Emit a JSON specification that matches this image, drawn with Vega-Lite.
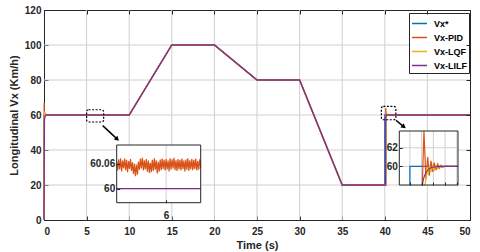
{
  "$schema": "https://vega.github.io/schema/vega-lite/v6.json",
  "width": 426,
  "height": 210,
  "autosize": {"type": "none"},
  "padding": {"left": 44, "top": 10, "right": 10, "bottom": 32},
  "background": "white",
  "config": {
    "view": {"stroke": "#262626", "strokeWidth": 1},
    "font": "Liberation Sans",
    "axis": {
      "labelFont": "Liberation Sans", "labelFontWeight": "bold", "labelFontSize": 10, "labelColor": "#262626",
      "titleFont": "Liberation Sans", "titleFontWeight": "bold", "titleFontSize": 11, "titleColor": "#262626",
      "domainColor": "#262626", "tickColor": "#262626", "tickSize": -4, "grid": false, "labelOverlap": false
    }
  },
  "datasets": {
    "d": [
      {"s": "Vx*", "t": 0, "v": 0},
      {"s": "Vx*", "t": 0.001, "v": 60},
      {"s": "Vx*", "t": 10, "v": 60},
      {"s": "Vx*", "t": 15, "v": 100},
      {"s": "Vx*", "t": 20, "v": 100},
      {"s": "Vx*", "t": 25, "v": 80},
      {"s": "Vx*", "t": 30, "v": 80},
      {"s": "Vx*", "t": 35, "v": 20},
      {"s": "Vx*", "t": 40, "v": 20},
      {"s": "Vx*", "t": 40.0005, "v": 60},
      {"s": "Vx*", "t": 50, "v": 60},
      {"s": "Vx-PID", "t": 0, "v": 0},
      {"s": "Vx-PID", "t": 0.02, "v": 67},
      {"s": "Vx-PID", "t": 0.05, "v": 57.5},
      {"s": "Vx-PID", "t": 0.09, "v": 61.5},
      {"s": "Vx-PID", "t": 0.14, "v": 59.3},
      {"s": "Vx-PID", "t": 0.2, "v": 60.4},
      {"s": "Vx-PID", "t": 0.3, "v": 60.06},
      {"s": "Vx-PID", "t": 5.00, "v": 60.066},
      {"s": "Vx-PID", "t": 5.02, "v": 60.044},
      {"s": "Vx-PID", "t": 5.04, "v": 60.071},
      {"s": "Vx-PID", "t": 5.06, "v": 60.047},
      {"s": "Vx-PID", "t": 5.08, "v": 60.074},
      {"s": "Vx-PID", "t": 5.10, "v": 60.042},
      {"s": "Vx-PID", "t": 5.12, "v": 60.068},
      {"s": "Vx-PID", "t": 5.14, "v": 60.050},
      {"s": "Vx-PID", "t": 5.16, "v": 60.073},
      {"s": "Vx-PID", "t": 5.18, "v": 60.045},
      {"s": "Vx-PID", "t": 5.20, "v": 60.070},
      {"s": "Vx-PID", "t": 5.22, "v": 60.040},
      {"s": "Vx-PID", "t": 5.24, "v": 60.067},
      {"s": "Vx-PID", "t": 5.26, "v": 60.048},
      {"s": "Vx-PID", "t": 5.28, "v": 60.072},
      {"s": "Vx-PID", "t": 5.30, "v": 60.043},
      {"s": "Vx-PID", "t": 5.32, "v": 60.064},
      {"s": "Vx-PID", "t": 5.34, "v": 60.036},
      {"s": "Vx-PID", "t": 5.36, "v": 60.060},
      {"s": "Vx-PID", "t": 5.38, "v": 60.030},
      {"s": "Vx-PID", "t": 5.40, "v": 60.058},
      {"s": "Vx-PID", "t": 5.42, "v": 60.034},
      {"s": "Vx-PID", "t": 5.44, "v": 60.066},
      {"s": "Vx-PID", "t": 5.46, "v": 60.046},
      {"s": "Vx-PID", "t": 5.48, "v": 60.073},
      {"s": "Vx-PID", "t": 5.50, "v": 60.049},
      {"s": "Vx-PID", "t": 5.52, "v": 60.075},
      {"s": "Vx-PID", "t": 5.54, "v": 60.044},
      {"s": "Vx-PID", "t": 5.56, "v": 60.069},
      {"s": "Vx-PID", "t": 5.58, "v": 60.047},
      {"s": "Vx-PID", "t": 5.60, "v": 60.072},
      {"s": "Vx-PID", "t": 5.62, "v": 60.041},
      {"s": "Vx-PID", "t": 5.64, "v": 60.068},
      {"s": "Vx-PID", "t": 5.66, "v": 60.038},
      {"s": "Vx-PID", "t": 5.68, "v": 60.063},
      {"s": "Vx-PID", "t": 5.70, "v": 60.040},
      {"s": "Vx-PID", "t": 5.72, "v": 60.070},
      {"s": "Vx-PID", "t": 5.74, "v": 60.043},
      {"s": "Vx-PID", "t": 5.76, "v": 60.074},
      {"s": "Vx-PID", "t": 5.78, "v": 60.046},
      {"s": "Vx-PID", "t": 5.80, "v": 60.069},
      {"s": "Vx-PID", "t": 5.82, "v": 60.037},
      {"s": "Vx-PID", "t": 5.84, "v": 60.065},
      {"s": "Vx-PID", "t": 5.86, "v": 60.041},
      {"s": "Vx-PID", "t": 5.88, "v": 60.071},
      {"s": "Vx-PID", "t": 5.90, "v": 60.045},
      {"s": "Vx-PID", "t": 5.92, "v": 60.073},
      {"s": "Vx-PID", "t": 5.94, "v": 60.048},
      {"s": "Vx-PID", "t": 5.96, "v": 60.070},
      {"s": "Vx-PID", "t": 5.98, "v": 60.044},
      {"s": "Vx-PID", "t": 6.00, "v": 60.072},
      {"s": "Vx-PID", "t": 6.02, "v": 60.047},
      {"s": "Vx-PID", "t": 6.04, "v": 60.068},
      {"s": "Vx-PID", "t": 6.06, "v": 60.042},
      {"s": "Vx-PID", "t": 6.08, "v": 60.074},
      {"s": "Vx-PID", "t": 6.10, "v": 60.046},
      {"s": "Vx-PID", "t": 6.12, "v": 60.071},
      {"s": "Vx-PID", "t": 6.14, "v": 60.049},
      {"s": "Vx-PID", "t": 6.16, "v": 60.075},
      {"s": "Vx-PID", "t": 6.18, "v": 60.045},
      {"s": "Vx-PID", "t": 6.20, "v": 60.069},
      {"s": "Vx-PID", "t": 6.22, "v": 60.043},
      {"s": "Vx-PID", "t": 6.24, "v": 60.072},
      {"s": "Vx-PID", "t": 6.26, "v": 60.047},
      {"s": "Vx-PID", "t": 6.28, "v": 60.070},
      {"s": "Vx-PID", "t": 6.30, "v": 60.044},
      {"s": "Vx-PID", "t": 6.32, "v": 60.073},
      {"s": "Vx-PID", "t": 6.34, "v": 60.048},
      {"s": "Vx-PID", "t": 6.36, "v": 60.068},
      {"s": "Vx-PID", "t": 6.38, "v": 60.042},
      {"s": "Vx-PID", "t": 6.40, "v": 60.071},
      {"s": "Vx-PID", "t": 6.42, "v": 60.046},
      {"s": "Vx-PID", "t": 6.44, "v": 60.074},
      {"s": "Vx-PID", "t": 6.46, "v": 60.043},
      {"s": "Vx-PID", "t": 6.48, "v": 60.069},
      {"s": "Vx-PID", "t": 6.50, "v": 60.047},
      {"s": "Vx-PID", "t": 6.52, "v": 60.072},
      {"s": "Vx-PID", "t": 6.54, "v": 60.045},
      {"s": "Vx-PID", "t": 6.56, "v": 60.070},
      {"s": "Vx-PID", "t": 6.58, "v": 60.048},
      {"s": "Vx-PID", "t": 6.60, "v": 60.073},
      {"s": "Vx-PID", "t": 6.62, "v": 60.044},
      {"s": "Vx-PID", "t": 6.64, "v": 60.067},
      {"s": "Vx-PID", "t": 6.66, "v": 60.046},
      {"s": "Vx-PID", "t": 6.68, "v": 60.071},
      {"s": "Vx-PID", "t": 6.70, "v": 60.052},
      {"s": "Vx-PID", "t": 10, "v": 60.06},
      {"s": "Vx-PID", "t": 15, "v": 100},
      {"s": "Vx-PID", "t": 20, "v": 100},
      {"s": "Vx-PID", "t": 25, "v": 80},
      {"s": "Vx-PID", "t": 30, "v": 80},
      {"s": "Vx-PID", "t": 35, "v": 20},
      {"s": "Vx-PID", "t": 40.106, "v": 20},
      {"s": "Vx-PID", "t": 40.12, "v": 64},
      {"s": "Vx-PID", "t": 40.137, "v": 58.6},
      {"s": "Vx-PID", "t": 40.152, "v": 61.0},
      {"s": "Vx-PID", "t": 40.165, "v": 59.0},
      {"s": "Vx-PID", "t": 40.18, "v": 60.6},
      {"s": "Vx-PID", "t": 40.193, "v": 59.4},
      {"s": "Vx-PID", "t": 40.208, "v": 60.4},
      {"s": "Vx-PID", "t": 40.222, "v": 59.6},
      {"s": "Vx-PID", "t": 40.237, "v": 60.25},
      {"s": "Vx-PID", "t": 40.25, "v": 59.8},
      {"s": "Vx-PID", "t": 40.265, "v": 60.12},
      {"s": "Vx-PID", "t": 40.28, "v": 59.9},
      {"s": "Vx-PID", "t": 40.3, "v": 60.04},
      {"s": "Vx-PID", "t": 40.33, "v": 60},
      {"s": "Vx-PID", "t": 50, "v": 60},
      {"s": "Vx-LQF", "t": 0, "v": 0},
      {"s": "Vx-LQF", "t": 0.03, "v": 62},
      {"s": "Vx-LQF", "t": 0.07, "v": 59.2},
      {"s": "Vx-LQF", "t": 0.12, "v": 60.4},
      {"s": "Vx-LQF", "t": 0.2, "v": 60},
      {"s": "Vx-LQF", "t": 10, "v": 60},
      {"s": "Vx-LQF", "t": 15, "v": 100},
      {"s": "Vx-LQF", "t": 20, "v": 100},
      {"s": "Vx-LQF", "t": 25, "v": 80},
      {"s": "Vx-LQF", "t": 30, "v": 80},
      {"s": "Vx-LQF", "t": 35, "v": 20},
      {"s": "Vx-LQF", "t": 40.125, "v": 20},
      {"s": "Vx-LQF", "t": 40.132, "v": 58.2},
      {"s": "Vx-LQF", "t": 40.145, "v": 59.9},
      {"s": "Vx-LQF", "t": 40.155, "v": 59.1},
      {"s": "Vx-LQF", "t": 40.168, "v": 60.1},
      {"s": "Vx-LQF", "t": 40.18, "v": 59.4},
      {"s": "Vx-LQF", "t": 40.195, "v": 60.1},
      {"s": "Vx-LQF", "t": 40.208, "v": 59.6},
      {"s": "Vx-LQF", "t": 40.222, "v": 60.05},
      {"s": "Vx-LQF", "t": 40.237, "v": 59.75},
      {"s": "Vx-LQF", "t": 40.252, "v": 60.03},
      {"s": "Vx-LQF", "t": 40.27, "v": 59.9},
      {"s": "Vx-LQF", "t": 40.29, "v": 60},
      {"s": "Vx-LQF", "t": 50, "v": 60},
      {"s": "Vx-LILF", "t": 0, "v": 0},
      {"s": "Vx-LILF", "t": 0.05, "v": 57},
      {"s": "Vx-LILF", "t": 0.1, "v": 59},
      {"s": "Vx-LILF", "t": 0.2, "v": 59.8},
      {"s": "Vx-LILF", "t": 0.35, "v": 60},
      {"s": "Vx-LILF", "t": 5, "v": 60},
      {"s": "Vx-LILF", "t": 6.7, "v": 60},
      {"s": "Vx-LILF", "t": 10, "v": 60},
      {"s": "Vx-LILF", "t": 15, "v": 100},
      {"s": "Vx-LILF", "t": 20, "v": 100},
      {"s": "Vx-LILF", "t": 25, "v": 80},
      {"s": "Vx-LILF", "t": 30, "v": 80},
      {"s": "Vx-LILF", "t": 35, "v": 20},
      {"s": "Vx-LILF", "t": 40.1, "v": 20},
      {"s": "Vx-LILF", "t": 40.106, "v": 57.9},
      {"s": "Vx-LILF", "t": 40.115, "v": 58.6},
      {"s": "Vx-LILF", "t": 40.125, "v": 59.0},
      {"s": "Vx-LILF", "t": 40.14, "v": 59.4},
      {"s": "Vx-LILF", "t": 40.16, "v": 59.7},
      {"s": "Vx-LILF", "t": 40.18, "v": 59.85},
      {"s": "Vx-LILF", "t": 40.2, "v": 59.93},
      {"s": "Vx-LILF", "t": 40.24, "v": 59.98},
      {"s": "Vx-LILF", "t": 40.3, "v": 60},
      {"s": "Vx-LILF", "t": 50, "v": 60}
    ],
    "grid": [
      {"k": "v5", "gx": 5, "gy": 0}, {"k": "v5", "gx": 5, "gy": 120},
      {"k": "v10", "gx": 10, "gy": 0}, {"k": "v10", "gx": 10, "gy": 120},
      {"k": "v15", "gx": 15, "gy": 0}, {"k": "v15", "gx": 15, "gy": 120},
      {"k": "v20", "gx": 20, "gy": 0}, {"k": "v20", "gx": 20, "gy": 120},
      {"k": "v25", "gx": 25, "gy": 0}, {"k": "v25", "gx": 25, "gy": 120},
      {"k": "v30", "gx": 30, "gy": 0}, {"k": "v30", "gx": 30, "gy": 120},
      {"k": "v35", "gx": 35, "gy": 0}, {"k": "v35", "gx": 35, "gy": 120},
      {"k": "v40", "gx": 40, "gy": 0}, {"k": "v40", "gx": 40, "gy": 120},
      {"k": "v45", "gx": 45, "gy": 0}, {"k": "v45", "gx": 45, "gy": 120},
      {"k": "h20", "gx": 0, "gy": 20}, {"k": "h20", "gx": 50, "gy": 20},
      {"k": "h40", "gx": 0, "gy": 40}, {"k": "h40", "gx": 50, "gy": 40},
      {"k": "h60", "gx": 0, "gy": 60}, {"k": "h60", "gx": 50, "gy": 60},
      {"k": "h80", "gx": 0, "gy": 80}, {"k": "h80", "gx": 50, "gy": 80},
      {"k": "h100", "gx": 0, "gy": 100}, {"k": "h100", "gx": 50, "gy": 100}
    ],
    "boxes": [
      {"x1": 5, "x2": 7, "y1": 56, "y2": 63},
      {"x1": 39.6, "x2": 41.3, "y1": 57.3, "y2": 64.9}
    ],
    "arrows": [
      {"id": "a", "x1": 6.89, "y1": 53.9, "x2": 8.53, "y2": 46.5},
      {"id": "b", "x1": 41.31, "y1": 57.0, "x2": 42.17, "y2": 53.5}
    ],
    "in1": [{"x1": 5, "x2": 6.7, "y1": 59.966, "y2": 60.106}],
    "in1grid": [
      {"k": "v6", "gx": 6, "gy": 59.966}, {"k": "v6", "gx": 6, "gy": 60.106},
      {"k": "h60", "gx": 5, "gy": 60}, {"k": "h60", "gx": 6.7, "gy": 60},
      {"k": "h6006", "gx": 5, "gy": 60.06}, {"k": "h6006", "gx": 6.7, "gy": 60.06}
    ],
    "in2": [{"x1": 39.91, "x2": 40.41, "y1": 58, "y2": 63.8}],
    "in2grid": [
      {"k": "v40", "gx": 40, "gy": 58}, {"k": "v40", "gx": 40, "gy": 63.8},
      {"k": "v401", "gx": 40.1, "gy": 58}, {"k": "v401", "gx": 40.1, "gy": 63.8},
      {"k": "v402", "gx": 40.2, "gy": 58}, {"k": "v402", "gx": 40.2, "gy": 63.8},
      {"k": "v403", "gx": 40.3, "gy": 58}, {"k": "v403", "gx": 40.3, "gy": 63.8},
      {"k": "v404", "gx": 40.4, "gy": 58}, {"k": "v404", "gx": 40.4, "gy": 63.8},
      {"k": "h60", "gx": 39.91, "gy": 60}, {"k": "h60", "gx": 40.41, "gy": 60},
      {"k": "h62", "gx": 39.91, "gy": 62}, {"k": "h62", "gx": 40.41, "gy": 62}
    ]
  },
  "layer": [
    {
      "data": {"name": "grid"},
      "mark": {"type": "line", "color": "#d0d0d0", "strokeWidth": 1},
      "encoding": {
        "x": {"field": "gx", "type": "quantitative", "scale": {"domain": [0, 50], "nice": false, "zero": false}, "axis": null},
        "y": {"field": "gy", "type": "quantitative", "scale": {"domain": [0, 120], "nice": false, "zero": false}, "axis": null},
        "detail": {"field": "k", "type": "nominal"}
      }
    },
    {
      "data": {"name": "d"},
      "mark": {"type": "line", "strokeWidth": 1.3},
      "encoding": {
        "x": {"field": "t", "type": "quantitative", "scale": {"domain": [0, 50], "nice": false, "zero": false},
              "axis": {"orient": "bottom", "values": [0, 5, 10, 15, 20, 25, 30, 35, 40, 45, 50], "title": "Time (s)", "labelPadding": 10, "titlePadding": 3}},
        "y": {"field": "v", "type": "quantitative", "scale": {"domain": [0, 120], "nice": false, "zero": false},
              "axis": {"orient": "left", "values": [0, 20, 40, 60, 80, 100, 120], "title": "Longitudinal Vx (Km/h)", "labelPadding": 7, "titlePadding": 5}},
        "color": {"field": "s", "type": "nominal",
                  "scale": {"domain": ["Vx*", "Vx-PID", "Vx-LQF", "Vx-LILF"], "range": ["#0072BD", "#D95319", "#EDB120", "#7E2F8E"]},
                  "legend": {"orient": "none", "legendX": 365, "legendY": 3, "title": null, "symbolType": "stroke", "symbolSize": 225, "symbolStrokeWidth": 1.5,
                             "labelFont": "Liberation Sans", "labelFontSize": 9, "labelFontWeight": "bold", "labelColor": "#000000",
                             "strokeColor": "#262626", "fillColor": "white", "padding": 2, "rowPadding": -3.3, "labelOffset": 6}}
      }
    },
    {
      "data": {"name": "boxes"},
      "mark": {"type": "rect", "fillOpacity": 0, "stroke": "#000000", "strokeWidth": 1.2, "strokeDash": [2, 1.5], "cornerRadius": 2},
      "encoding": {
        "x": {"field": "x1", "type": "quantitative", "scale": {"domain": [0, 50], "nice": false, "zero": false}, "axis": null}, "x2": {"field": "x2"},
        "y": {"field": "y1", "type": "quantitative", "scale": {"domain": [0, 120], "nice": false, "zero": false}, "axis": null}, "y2": {"field": "y2"}
      }
    },
    {
      "data": {"name": "arrows"},
      "mark": {"type": "rule", "color": "#000000", "strokeWidth": 1.5},
      "encoding": {
        "x": {"field": "x1", "type": "quantitative", "scale": {"domain": [0, 50], "nice": false, "zero": false}, "axis": null}, "x2": {"field": "x2"},
        "y": {"field": "y1", "type": "quantitative", "scale": {"domain": [0, 120], "nice": false, "zero": false}, "axis": null}, "y2": {"field": "y2"}
      }
    },
    {
      "data": {"name": "arrows"},
      "transform": [{"filter": "datum.id == 'a'"}],
      "mark": {"type": "point", "shape": "triangle", "filled": true, "color": "#000000", "size": 28, "angle": 133, "opacity": 1},
      "encoding": {
        "x": {"field": "x2", "type": "quantitative", "scale": {"domain": [0, 50], "nice": false, "zero": false}, "axis": null},
        "y": {"field": "y2", "type": "quantitative", "scale": {"domain": [0, 120], "nice": false, "zero": false}, "axis": null}
      }
    },
    {
      "data": {"name": "arrows"},
      "transform": [{"filter": "datum.id == 'b'"}],
      "mark": {"type": "point", "shape": "triangle", "filled": true, "color": "#000000", "size": 28, "angle": 126, "opacity": 1},
      "encoding": {
        "x": {"field": "x2", "type": "quantitative", "scale": {"domain": [0, 50], "nice": false, "zero": false}, "axis": null},
        "y": {"field": "y2", "type": "quantitative", "scale": {"domain": [0, 120], "nice": false, "zero": false}, "axis": null}
      }
    },
    {
      "data": {"name": "in1"},
      "mark": {"type": "rect", "fill": "white", "strokeWidth": 0},
      "encoding": {
        "x": {"field": "x1", "type": "quantitative", "scale": {"domain": [5, 6.7], "range": [72.7, 156.7], "nice": false, "zero": false, "clamp": true}, "axis": null},
        "x2": {"field": "x2"},
        "y": {"field": "y1", "type": "quantitative", "scale": {"domain": [59.966, 60.106], "range": [192.7, 135], "nice": false, "zero": false, "clamp": true}, "axis": null},
        "y2": {"field": "y2"}
      }
    },
    {
      "data": {"name": "in1grid"},
      "mark": {"type": "line", "color": "#d0d0d0", "strokeWidth": 1},
      "encoding": {
        "x": {"field": "gx", "type": "quantitative", "scale": {"domain": [5, 6.7], "range": [72.7, 156.7], "nice": false, "zero": false, "clamp": true}, "axis": null},
        "y": {"field": "gy", "type": "quantitative", "scale": {"domain": [59.966, 60.106], "range": [192.7, 135], "nice": false, "zero": false, "clamp": true}, "axis": null},
        "detail": {"field": "k", "type": "nominal"}
      }
    },
    {
      "data": {"name": "d"},
      "transform": [{"filter": "datum.t >= 5 && datum.t <= 6.7"}],
      "mark": {"type": "line", "strokeWidth": 1.2},
      "encoding": {
        "x": {"field": "t", "type": "quantitative", "scale": {"domain": [5, 6.7], "range": [72.7, 156.7], "nice": false, "zero": false, "clamp": true},
              "axis": {"orient": "bottom", "offset": -17.3, "values": [6], "format": "d", "title": null, "domain": false, "tickSize": -3, "labelPadding": 11, "zindex": 1}},
        "y": {"field": "v", "type": "quantitative", "scale": {"domain": [59.966, 60.106], "range": [192.7, 135], "nice": false, "zero": false, "clamp": true},
              "axis": {"orient": "left", "offset": -72.7, "values": [60, 60.06], "format": ".2~f", "title": null, "domain": false, "tickSize": -3, "labelPadding": 5, "zindex": 1}},
        "color": {"field": "s", "type": "nominal",
                  "scale": {"domain": ["Vx*", "Vx-PID", "Vx-LQF", "Vx-LILF"], "range": ["#0072BD", "#D95319", "#EDB120", "#7E2F8E"]},
                  "legend": null}
      }
    },
    {
      "data": {"name": "in1"},
      "mark": {"type": "rect", "fillOpacity": 0, "stroke": "#262626", "strokeWidth": 1},
      "encoding": {
        "x": {"field": "x1", "type": "quantitative", "scale": {"domain": [5, 6.7], "range": [72.7, 156.7], "nice": false, "zero": false, "clamp": true}, "axis": null},
        "x2": {"field": "x2"},
        "y": {"field": "y1", "type": "quantitative", "scale": {"domain": [59.966, 60.106], "range": [192.7, 135], "nice": false, "zero": false, "clamp": true}, "axis": null},
        "y2": {"field": "y2"}
      }
    },
    {
      "data": {"name": "in2"},
      "mark": {"type": "rect", "fill": "white", "strokeWidth": 0},
      "encoding": {
        "x": {"field": "x1", "type": "quantitative", "scale": {"domain": [39.91, 40.41], "range": [355.3, 414], "nice": false, "zero": false, "clamp": true}, "axis": null},
        "x2": {"field": "x2"},
        "y": {"field": "y1", "type": "quantitative", "scale": {"domain": [58, 63.8], "range": [175, 121], "nice": false, "zero": false, "clamp": true}, "axis": null},
        "y2": {"field": "y2"}
      }
    },
    {
      "data": {"name": "in2grid"},
      "mark": {"type": "line", "color": "#d0d0d0", "strokeWidth": 1},
      "encoding": {
        "x": {"field": "gx", "type": "quantitative", "scale": {"domain": [39.91, 40.41], "range": [355.3, 414], "nice": false, "zero": false, "clamp": true}, "axis": null},
        "y": {"field": "gy", "type": "quantitative", "scale": {"domain": [58, 63.8], "range": [175, 121], "nice": false, "zero": false, "clamp": true}, "axis": null},
        "detail": {"field": "k", "type": "nominal"}
      }
    },
    {
      "data": {"name": "d"},
      "transform": [{"filter": "datum.t >= 40 && datum.t <= 50"}],
      "mark": {"type": "line", "strokeWidth": 1.2},
      "encoding": {
        "x": {"field": "t", "type": "quantitative", "scale": {"domain": [39.91, 40.41], "range": [355.3, 414], "nice": false, "zero": false, "clamp": true},
              "axis": {"orient": "bottom", "offset": -35, "values": [40, 40.1, 40.2, 40.3, 40.4], "labels": false, "title": null, "domain": false, "tickSize": -3, "zindex": 1}},
        "y": {"field": "v", "type": "quantitative", "scale": {"domain": [58, 63.8], "range": [175, 121], "nice": false, "zero": false, "clamp": true},
              "axis": {"orient": "left", "offset": -355.3, "values": [60, 62], "format": "d", "title": null, "domain": false, "tickSize": -3, "labelPadding": 5, "zindex": 1}},
        "color": {"field": "s", "type": "nominal",
                  "scale": {"domain": ["Vx*", "Vx-PID", "Vx-LQF", "Vx-LILF"], "range": ["#0072BD", "#D95319", "#EDB120", "#7E2F8E"]},
                  "legend": null}
      }
    },
    {
      "data": {"name": "in2"},
      "mark": {"type": "rect", "fillOpacity": 0, "stroke": "#262626", "strokeWidth": 1},
      "encoding": {
        "x": {"field": "x1", "type": "quantitative", "scale": {"domain": [39.91, 40.41], "range": [355.3, 414], "nice": false, "zero": false, "clamp": true}, "axis": null},
        "x2": {"field": "x2"},
        "y": {"field": "y1", "type": "quantitative", "scale": {"domain": [58, 63.8], "range": [175, 121], "nice": false, "zero": false, "clamp": true}, "axis": null},
        "y2": {"field": "y2"}
      }
    },
    {
      "data": {"name": "boxes"},
      "mark": {"type": "point", "opacity": 0},
      "encoding": {
        "x": {"field": "x1", "type": "quantitative", "scale": {"domain": [0, 50], "nice": false, "zero": false},
              "axis": {"orient": "top", "values": [0, 5, 10, 15, 20, 25, 30, 35, 40, 45, 50], "labels": false, "title": null, "domain": false, "zindex": 1}},
        "y": {"field": "y1", "type": "quantitative", "scale": {"domain": [0, 120], "nice": false, "zero": false},
              "axis": {"orient": "right", "values": [0, 20, 40, 60, 80, 100, 120], "labels": false, "title": null, "domain": false, "zindex": 1}}
      }
    }
  ],
  "resolve": {"scale": {"x": "independent", "y": "independent", "color": "independent"}, "legend": {"color": "independent"}}
}
